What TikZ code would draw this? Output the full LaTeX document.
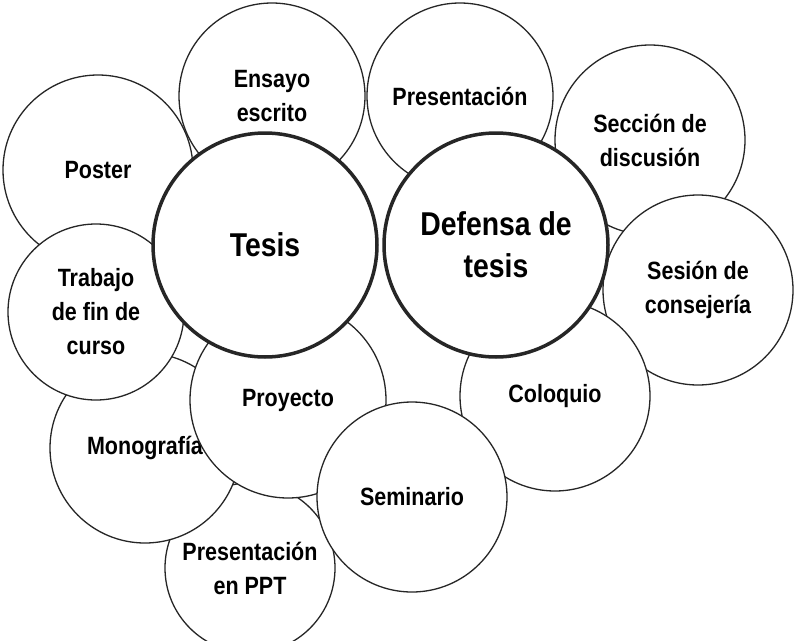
\documentclass[tikz,border=0pt]{standalone}
\usepackage{fontspec}
\setmainfont[FakeStretch=0.86]{Liberation Sans}
\begin{document}
\begin{tikzpicture}[x=1pt,y=-1pt,
  bub/.style={circle,draw=black!85,line width=1.3pt,fill=white,align=center,inner sep=0pt,font=\fontsize{25}{34}\selectfont\bfseries},
  big/.style={circle,draw=black!85,line width=3.5pt,fill=white,align=center,inner sep=0pt,font=\fontsize{33}{42}\selectfont\bfseries}]
\useasboundingbox[fill=white] (0,0) rectangle (795,640);
\node[bub,minimum size=186pt] (ens) at (272,96) {Ensayo\\escrito};
\node[bub,minimum size=186pt] (pre) at (460,96) {Presentación};
\node[bub,minimum size=190pt] (sec) at (650,140) {Sección de\\discusión};
\node[bub,minimum size=190pt] (ses) at (698,290) {Sesión de\\consejería};
\node[bub,minimum size=190pt] (pos) at (98,170) {Poster};
\node[bub,minimum size=170pt] (ppt) at (250,568) {Presentación\\en PPT};
\node[bub,minimum size=190pt] (mon) at (145,448) {Monografía};
\node[bub,minimum size=176pt] (tra) at (96,312) {Trabajo\\de fin de\\curso};
\node[bub,minimum size=196pt] (pro) at (288,400) {Proyecto};
\node[bub,minimum size=190pt] (col) at (555,396) {Coloquio};
\node[bub,minimum size=190pt] (sem) at (412,497) {Seminario};
\node[big,minimum size=224pt] (tes) at (265,245) {Tesis};
\node[big,minimum size=224pt] (def) at (496,245) {Defensa de\\tesis};
\end{tikzpicture}
\end{document}
